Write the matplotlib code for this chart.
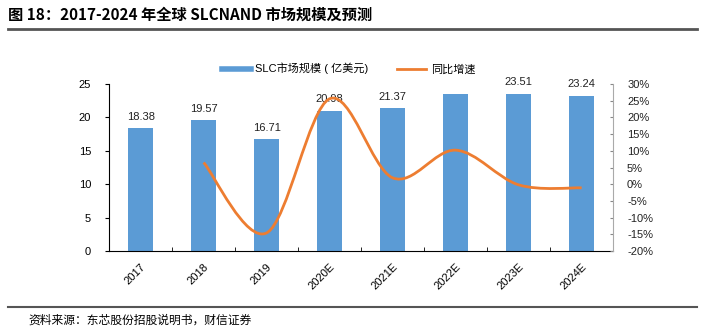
import matplotlib
matplotlib.use("Agg")
import matplotlib.pyplot as plt
from matplotlib.path import Path
from matplotlib.patches import PathPatch
from matplotlib.lines import Line2D
from matplotlib.ticker import FuncFormatter, FixedLocator
import numpy as np

plt.rcParams['font.family'] = ['Liberation Sans', 'Noto Sans CJK SC', 'DejaVu Sans']

# data
years = ['2017', '2018', '2019', '2020E', '2021E', '2022E', '2023E', '2024E']
market = [18.38, 19.57, 16.71, 20.98, 21.37, 23.55, 23.51, 23.24]
market_labels = ['18.38', '19.57', '16.71', '20.98', '21.37', '', '23.51', '23.24']
growth_years = ['2018', '2019', '2020E', '2021E', '2022E', '2023E', '2024E']
growth = [6.5, -14.6, 25.6, 1.9, 10.2, -0.2, -1.1]

blue = '#5B9BD5'
orange = '#ED7D31'

fig = plt.figure(figsize=(7.04, 3.35), dpi=100)
ax = fig.add_axes([0.155, 0.251, 0.716, 0.498])
x = np.arange(len(years))
ax.bar(x, market, width=0.4, color=blue, zorder=2)
for xi, v, lab in zip(x, market, market_labels):
    if lab:
        ax.text(xi, v + 1.0, lab, ha='center', va='bottom', fontsize=8, color='#222222')
ax.set_xlim(-0.5, len(years) - 0.5)
ax.set_ylim(0, 25)
ax.set_yticks(range(0, 26, 5))
ax.set_xticks(x)
ax.set_xticklabels(years, rotation=45, ha='right', rotation_mode='anchor', fontsize=8)
ax.tick_params(axis='x', length=0, pad=8)
ax.xaxis.set_minor_locator(FixedLocator(np.arange(-0.5, len(years), 1.0)))
ax.tick_params(axis='x', which='minor', length=3, direction='in')
ax.tick_params(axis='y', labelsize=8, length=3, direction='out', pad=10)
for s in ['top', 'right']:
    ax.spines[s].set_visible(False)

ax2 = ax.twinx()
ax2.set_ylim(-20, 30)
ax2.set_yticks(range(-20, 31, 5))
ax2.yaxis.set_major_formatter(FuncFormatter(lambda v, p: f'{int(v)}%'))
ax2.tick_params(axis='y', labelsize=8, length=2, direction='in', colors='#888888', labelcolor='#222222', pad=10)
for s in ['top', 'left', 'bottom']:
    ax2.spines[s].set_visible(False)
ax2.spines['right'].set_color('#aaaaaa')

# smoothed line via bezier segments (Excel-style)
gx = [years.index(g) for g in growth_years]
pts = np.column_stack([gx, growth]).astype(float)
verts = [tuple(pts[0])]
codes = [Path.MOVETO]
n = len(pts)
for i in range(n - 1):
    p0 = pts[i - 1] if i > 0 else pts[i]
    p1 = pts[i]
    p2 = pts[i + 1]
    p3 = pts[i + 2] if i + 2 < n else pts[i + 1]
    c1 = p1 + (p2 - p0) / 6
    c2 = p2 - (p3 - p1) / 6
    verts += [tuple(c1), tuple(c2), tuple(p2)]
    codes += [Path.CURVE4] * 3
ax2.add_patch(PathPatch(Path(verts, codes), facecolor='none', edgecolor=orange, lw=2, zorder=3))

handles = [Line2D([], [], color=blue, lw=4), Line2D([], [], color=orange, lw=2)]
fig.legend(handles, ['SLC市场规模 ( 亿美元)', '同比增速'], loc='center', bbox_to_anchor=(0.495, 0.795),
           ncol=2, frameon=False, fontsize=8, handlelength=2.6, handletextpad=0.4, columnspacing=2.6)

fig.text(0.012, 0.955, '图 18：2017-2024 年全球 SLCNAND 市场规模及预测', fontsize=11, fontweight='bold',
         family=['Noto Sans CJK SC', 'DejaVu Sans'], va='center')
fig.add_artist(Line2D([0.012, 0.99], [0.912, 0.912], color='#555555', lw=2))
fig.add_artist(Line2D([0.012, 0.99], [0.083, 0.083], color='#555555', lw=1.5))
fig.text(0.04, 0.045, '资料来源：东芯股份招股说明书，财信证券', fontsize=8.5, style='italic',
         family=['Noto Sans CJK SC', 'DejaVu Sans'], va='center')

fig.savefig('out.png', dpi=100)
